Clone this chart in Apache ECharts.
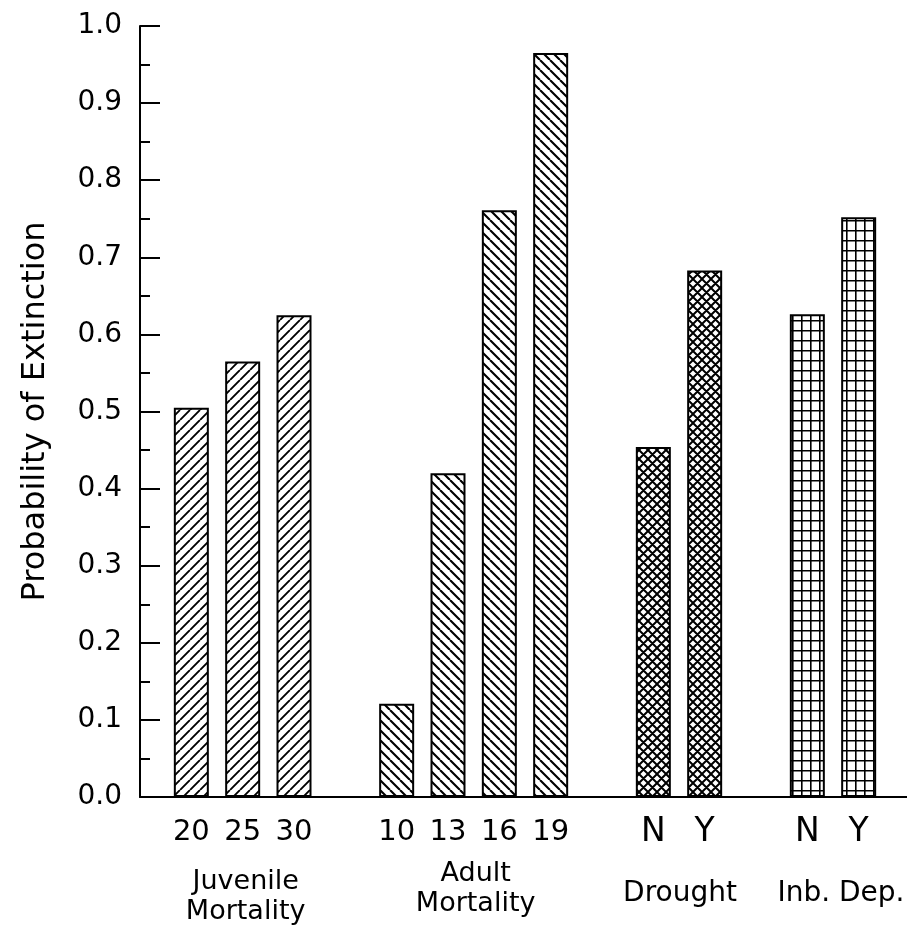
<!DOCTYPE html>
<html>
<head>
<meta charset="utf-8">
<script src="https://cdn.jsdelivr.net/npm/echarts@6/dist/echarts.min.js"></script>
<style>html,body{margin:0;padding:0;background:#fff;}#chart{width:907px;height:932px;}</style>
</head>
<body>
<div id="chart"></div>
<script>
// ---- data ----
const juvenileLabels = ['20', '25', '30'];
const juvenileValues = [0.505, 0.565, 0.625];
const adultLabels = ['10', '13', '16', '19'];
const adultValues = [0.121, 0.42, 0.761, 0.965];
const droughtLabels = ['N', 'Y'];
const droughtValues = [0.454, 0.683];
const inbreedingLabels = ['N', 'Y'];
const inbreedingValues = [0.626, 0.752];
const groupNames = ['Juvenile\nMortality', 'Adult\nMortality', 'Drought', 'Inb. Dep.'];
const yTicks = ['0.0', '0.1', '0.2', '0.3', '0.4', '0.5', '0.6', '0.7', '0.8', '0.9', '1.0'];

// ---- patterns ----
function makeCanvas(w, h) {
  const c = document.createElement('canvas');
  c.width = w; c.height = h;
  const ctx = c.getContext('2d');
  ctx.fillStyle = '#fff';
  ctx.fillRect(0, 0, w, h);
  ctx.strokeStyle = '#000';
  return [c, ctx];
}
function diagPattern(s, lw, forward, backward) {
  const [c, ctx] = makeCanvas(s, s);
  ctx.lineWidth = lw;
  ctx.beginPath();
  for (let k = -1; k <= 1; k++) {
    if (forward) { ctx.moveTo(k * s, s); ctx.lineTo(k * s + s, 0); }
    if (backward) { ctx.moveTo(k * s, 0); ctx.lineTo(k * s + s, s); }
  }
  ctx.stroke();
  return { image: c, repeat: 'repeat' };
}
function gridPattern(w, h, lw) {
  const [c, ctx] = makeCanvas(w, h);
  ctx.lineWidth = lw;
  ctx.beginPath();
  ctx.moveTo(lw / 2, 0); ctx.lineTo(lw / 2, h);
  ctx.moveTo(0, lw / 2); ctx.lineTo(w, lw / 2);
  ctx.stroke();
  return { image: c, repeat: 'repeat' };
}
const patterns = [
  diagPattern(10, 1.9, true, false),
  diagPattern(10, 2.1, false, true),
  diagPattern(9, 2.0, true, true),
  gridPattern(9, 10, 1.6)
];

// ---- build categories and bar data ----
const groups = [
  [juvenileLabels, juvenileValues],
  [adultLabels, adultValues],
  [droughtLabels, droughtValues],
  [inbreedingLabels, inbreedingValues]
];
const categories = [''];
const barData = ['-'];
const groupIndexes = [];
groups.forEach(([labels, values], g) => {
  const idx = [];
  labels.forEach((lab, i) => {
    idx.push(categories.length);
    categories.push(lab);
    barData.push({ value: values[i], itemStyle: { color: patterns[g] } });
  });
  groupIndexes.push(idx);
  categories.push('');
  barData.push('-');
});
const axisData = categories.map(c => (/^[A-Z]$/.test(c)
  ? { value: c, textStyle: { fontSize: 33, verticalAlign: 'middle' } } : c));

const FONT = 'DejaVu Sans';
const chart = echarts.init(document.getElementById('chart'));
chart.setOption({
  animation: false,
  backgroundColor: '#fff',
  grid: { left: 140, right: -3, top: 26, bottom: 135, containLabel: false, outerBoundsMode: 'none' },
  xAxis: {
    type: 'category',
    data: axisData,
    boundaryGap: false,
    axisLine: { lineStyle: { color: '#000', width: 2 } },
    axisTick: { show: false },
    splitLine: { show: false },
    axisLabel: { interval: 0, color: '#000', fontFamily: FONT, fontSize: 29, margin: 35, verticalAlign: 'middle' }
  },
  yAxis: {
    type: 'value',
    min: 0, max: 1, interval: 0.1,
    name: 'Probability of Extinction',
    nameLocation: 'middle',
    nameGap: 88,
    nameTextStyle: { color: '#000', fontFamily: FONT, fontSize: 32 },
    axisLine: { show: true, lineStyle: { color: '#000', width: 2 } },
    axisTick: { show: true, inside: true, length: 20, lineStyle: { color: '#000', width: 2 } },
    minorTick: { show: true, splitNumber: 2, length: 10, lineStyle: { color: '#000', width: 2 } },
    splitLine: { show: false },
    axisLabel: {
      color: '#000', fontFamily: FONT, fontSize: 28, margin: 18,
      formatter: v => yTicks[Math.round(v * 10)]
    }
  },
  series: [{
    type: 'bar',
    data: barData,
    barWidth: 35,
    itemStyle: { borderColor: '#000', borderWidth: 2 }
  }]
});

// group labels centred under each group, using the axis scale
const labelShift = [3, 2, 1, 8];
const labelY = [897, 889, 894, 894];
const labelSize = [27, 27, 28, 28];
chart.setOption({
  graphic: groupNames.map((name, g) => {
    const xs = groupIndexes[g].map(i => chart.convertToPixel({ xAxisIndex: 0 }, i));
    const cx = xs.reduce((a, b) => a + b, 0) / xs.length;
    return {
      type: 'text',
      x: cx + labelShift[g],
      y: labelY[g],
      style: {
        text: name, fill: '#000', fontFamily: FONT, fontSize: labelSize[g],
        align: 'center', verticalAlign: 'middle', lineHeight: 30
      }
    };
  })
});
</script>
</body>
</html>
